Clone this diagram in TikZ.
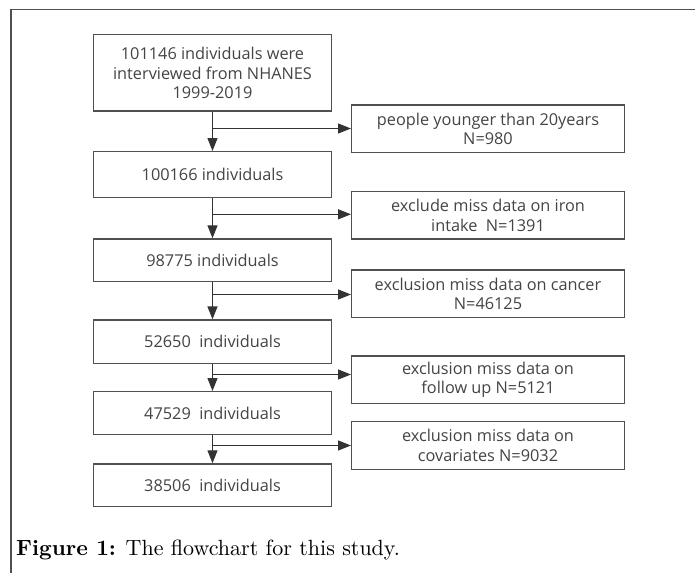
\documentclass[tikz,border=0pt]{standalone}
\usepackage{fontspec}
\setmainfont{Open Sans}
\newfontfamily\capfont[Extension=.otf,UprightFont=*-regular,BoldFont=*-bold]{lmroman10}
\usetikzlibrary{arrows.meta}
\definecolor{boxline}{HTML}{505050}
\definecolor{txt}{HTML}{444444}
\definecolor{arr}{HTML}{333333}
\begin{document}
\begin{tikzpicture}[x=1pt,y=-1pt,
  lbox/.style={draw=boxline,line width=1.4pt,minimum width=238.4pt,inner sep=0pt,
    align=center,text=txt,font=\fontsize{16.3}{19.8}\selectfont},
  rbox/.style={draw=boxline,line width=1.4pt,minimum width=272.6pt,inner sep=0pt,
    align=center,text=txt,font=\fontsize{16.3}{19.5}\selectfont},
  flow/.style={draw=arr,line width=1.3pt,-{Triangle[length=13pt,width=10pt]}}]
\useasboundingbox (0,0) rectangle (695,573);
\fill[white] (0,0) rectangle (695,573);
% frame
\draw[boxline,line width=1.4pt] (11,573) -- (11,9.5) -- (695,9.5);
% left column
\node[lbox,minimum height=76.3pt] (b1) at (212.5,72.9) {101146 individuals were\\interviewed from NHANES\\1999-2019};
\node[lbox,minimum height=46pt] (b2) at (212.5,174.7) {100166 individuals};
\node[lbox,minimum height=42.7pt] (b3) at (212.5,260.3) {98775 individuals};
\node[lbox,minimum height=43.3pt] (b4) at (212.5,341.7) {52650\ \ individuals};
\node[lbox,minimum height=42.6pt] (b5) at (212.5,413) {47529\ \ individuals};
\node[lbox,minimum height=42.7pt] (b6) at (212.5,485.3) {38506\ \ individuals};
% right column
\node[rbox,minimum height=47.3pt] (r1) at (488,128.7) {people younger than 20years\\N=980};
\node[rbox,minimum height=47.3pt] (r2) at (488,215.3) {exclude miss data on iron\\intake\ \ N=1391};
\node[rbox,minimum height=47.5pt] (r3) at (488,293.8) {exclusion miss data on cancer\\N=46125};
\node[rbox,minimum height=47.3pt] (r4) at (488,379.7) {exclusion miss data on\\follow up N=5121};
\node[rbox,minimum height=47.6pt] (r5) at (488,445.5) {exclusion miss data on\\covariates N=9032};
% junctions
\coordinate (j1) at (212.5,128.5);
\coordinate (j2) at (212.5,214.3);
\coordinate (j3) at (212.5,294.5);
\coordinate (j4) at (212.5,374.5);
\coordinate (j5) at (212.5,445.5);
% vertical arrows
\draw[flow] (b1) -- (b2);
\draw[flow] (b2) -- (b3);
\draw[flow] (b3) -- (b4);
\draw[flow] (b4) -- (b5);
\draw[flow] (b5) -- (b6);
% branch arrows
\draw[flow] (j1) -- (j1 -| r1.west);
\draw[flow] (j2) -- (j2 -| r2.west);
\draw[flow] (j3) -- (j3 -| r3.west);
\draw[flow] (j4) -- (j4 -| r4.west);
\draw[flow] (j5) -- (j5 -| r5.west);
% caption
\node[anchor=west,inner sep=0pt,font=\capfont\fontsize{22}{25}\selectfont,text=black] (cap) at (16,550) {\textbf{Figure 1:} The flowchart for this study.};
\end{tikzpicture}
\end{document}
